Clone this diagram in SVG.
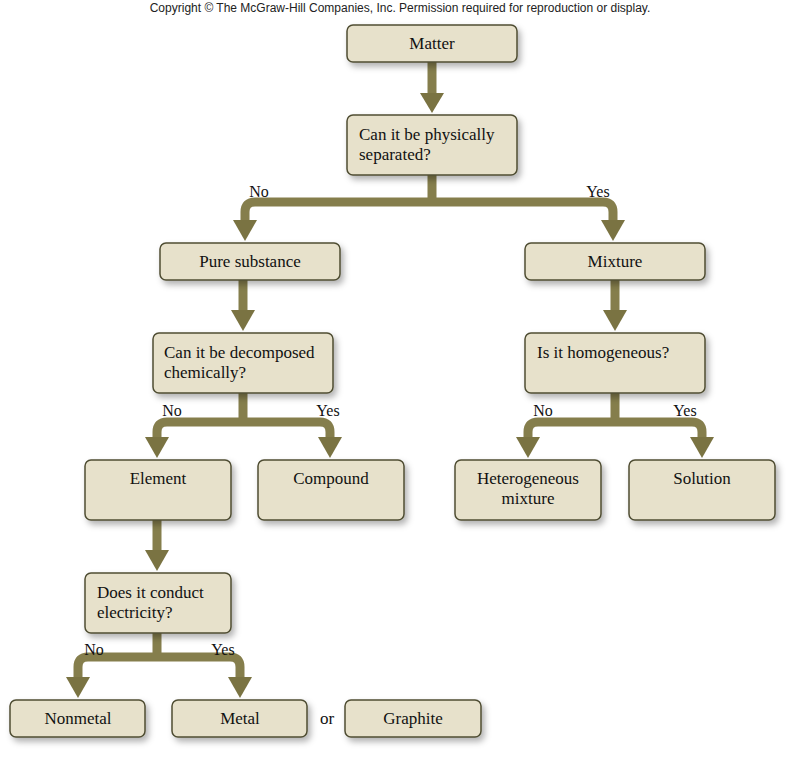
<svg xmlns="http://www.w3.org/2000/svg" width="798" height="759" viewBox="0 0 798 759">
<style>
.b{fill:#e7e1cb;stroke:#4f4d33;stroke-width:1.5;filter:url(#sh)}
.t{font-family:"Liberation Serif",serif;font-size:17px;fill:#111}
.c{text-anchor:middle}
.l{font-family:"Liberation Serif",serif;font-size:16px;fill:#111;text-anchor:middle}
.w{fill:none;stroke:#857e4c;stroke-width:9}
.h{fill:#7a7342}
</style>
<defs>
<filter id="sh" x="-10%" y="-10%" width="130%" height="140%"><feDropShadow dx="3" dy="4" stdDeviation="3" flood-color="#000" flood-opacity="0.3"/></filter>
</defs>
<rect width="798" height="759" fill="#fff"/>
<text x="400" y="12" font-family="Liberation Sans,sans-serif" font-size="12" text-anchor="middle" fill="#222">Copyright © The McGraw-Hill Companies, Inc. Permission required for reproduction or display.</text>
<g id="connectors">
<path class="w" d="M432 62V95"/><path class="h" d="M420 93H444L432 113Z"/>
<path class="w" d="M432 175V202M245 222V212Q245 202 255 202H603Q613 202 613 212V222"/>
<path class="h" d="M233 220H257L245 241Z"/><path class="h" d="M601 220H625L613 241Z"/>
<path class="w" d="M243 280V312"/><path class="h" d="M231 310H255L243 331Z"/>
<path class="w" d="M243 393V422M157 440V432Q157 422 167 422H320Q330 422 330 432V440"/>
<path class="h" d="M145 437H169L157 458Z"/><path class="h" d="M318 437H342L330 458Z"/>
<path class="w" d="M615 280V312"/><path class="h" d="M603 310H627L615 331Z"/>
<path class="w" d="M615 393V422M528 440V432Q528 422 538 422H692Q702 422 702 432V440"/>
<path class="h" d="M516 437H540L528 458Z"/><path class="h" d="M690 437H714L702 458Z"/>
<path class="w" d="M157 520V552"/><path class="h" d="M145 550H169L157 571Z"/>
<path class="w" d="M157 633V657M78 680V667Q78 657 88 657H230Q240 657 240 667V680"/>
<path class="h" d="M66 677H90L78 698Z"/><path class="h" d="M228 677H252L240 698Z"/>
<text class="l" x="259" y="197">No</text><text class="l" x="598" y="197">Yes</text>
<text class="l" x="172" y="416">No</text><text class="l" x="328" y="416">Yes</text>
<text class="l" x="543" y="416">No</text><text class="l" x="685" y="416">Yes</text>
<text class="l" x="94" y="655">No</text><text class="l" x="223" y="655">Yes</text>
</g>
<g id="matter"><rect class="b" x="347" y="25" width="170" height="37" rx="6"/><text class="t c" x="432" y="49">Matter</text></g>
<g id="q1"><rect class="b" x="347" y="115" width="170" height="60" rx="6"/><text class="t" x="359" y="140">Can it be physically</text><text class="t" x="359" y="160">separated?</text></g>
<g id="pure"><rect class="b" x="160" y="243" width="180" height="37" rx="6"/><text class="t c" x="250" y="267">Pure substance</text></g>
<g id="mixture"><rect class="b" x="525" y="243" width="180" height="37" rx="6"/><text class="t c" x="615" y="267">Mixture</text></g>
<g id="q2"><rect class="b" x="153" y="333" width="180" height="60" rx="6"/><text class="t" x="164" y="358">Can it be decomposed</text><text class="t" x="164" y="378">chemically?</text></g>
<g id="q3"><rect class="b" x="525" y="333" width="180" height="60" rx="6"/><text class="t" x="537" y="358">Is it homogeneous?</text></g>
<g id="element"><rect class="b" x="85" y="460" width="146" height="60" rx="6"/><text class="t c" x="158" y="484">Element</text></g>
<g id="compound"><rect class="b" x="258" y="460" width="146" height="60" rx="6"/><text class="t c" x="331" y="484">Compound</text></g>
<g id="hetero"><rect class="b" x="455" y="460" width="146" height="60" rx="6"/><text class="t c" x="528" y="484">Heterogeneous</text><text class="t c" x="528" y="504">mixture</text></g>
<g id="solution"><rect class="b" x="629" y="460" width="146" height="60" rx="6"/><text class="t c" x="702" y="484">Solution</text></g>
<g id="q4"><rect class="b" x="85" y="573" width="146" height="60" rx="6"/><text class="t" x="97" y="598">Does it conduct</text><text class="t" x="97" y="618">electricity?</text></g>
<g id="nonmetal"><rect class="b" x="10" y="700" width="135" height="37" rx="6"/><text class="t c" x="78" y="724">Nonmetal</text></g>
<g id="metal"><rect class="b" x="172" y="700" width="135" height="37" rx="6"/><text class="t c" x="240" y="724">Metal</text></g>
<text class="t c" x="327" y="724">or</text>
<g id="graphite"><rect class="b" x="345" y="700" width="136" height="37" rx="6"/><text class="t c" x="413" y="724">Graphite</text></g>
</svg>
